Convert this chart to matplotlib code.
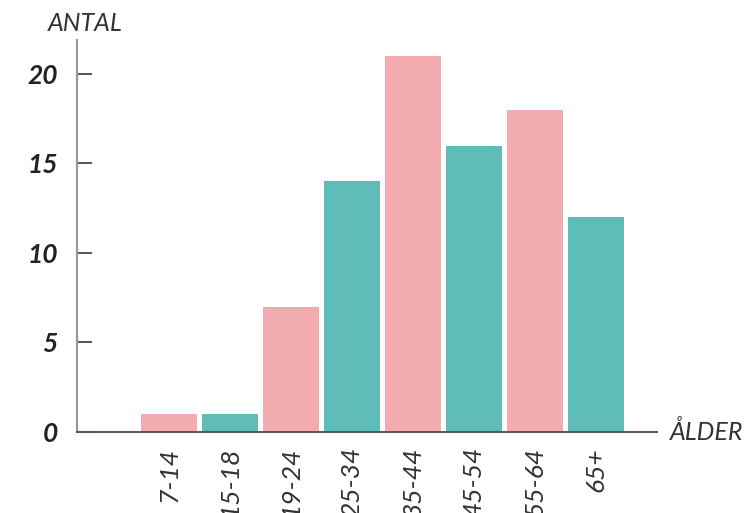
import numpy as np
import matplotlib
matplotlib.use('Agg')
import matplotlib.pyplot as plt

plt.rcParams['font.family'] = ['Lato', 'DejaVu Sans']

age_groups = ['7-14', '15-18', '19-24', '25-34', '35-44', '45-54', '55-64', '65+']
counts = [1, 1, 7, 14, 21, 16, 18, 12]
yticks = [0, 5, 10, 15, 20]

pink = '#F2ACAF'
teal = '#5FBCB8'
colors = [pink if i % 2 == 0 else teal for i in range(len(counts))]

fig = plt.figure(figsize=(7.45, 5.13), dpi=100)
ax = fig.add_axes([0.1034, 0.158, 0.7785, 0.764])

x = np.arange(len(age_groups))
ax.bar(x, counts, width=0.92, color=colors, zorder=2)

ax.set_xlim(-1.5, 8.0)
ax.set_ylim(0, 21.9)

ax.spines['top'].set_visible(False)
ax.spines['right'].set_visible(False)
ax.spines['left'].set_color('#999999')
ax.spines['left'].set_linewidth(1.6)
ax.spines['bottom'].set_color('#555555')
ax.spines['bottom'].set_linewidth(1.4)
ax.spines['bottom'].set_zorder(3)

ax.set_yticks(yticks)
ax.set_yticklabels([str(v) for v in yticks], fontsize=19, fontweight='bold',
                   fontstyle='italic', color='#222222')
ax.tick_params(axis='y', direction='in', length=11, width=1.4, color='#555555', pad=14)

ax.set_xticks(x)
ax.set_xticklabels(age_groups, rotation=90, fontsize=19,
                   fontstyle='italic', color='#333333')
ax.tick_params(axis='x', length=0, pad=11)

fig.text(0.064, 0.955, 'ANTAL', fontsize=18, fontstyle='italic',
         color='#333333', ha='left', va='center')
ax.text(1.022, 0, 'ÅLDER', transform=ax.get_yaxis_transform(which='grid'),
        fontsize=18, fontstyle='italic', color='#333333',
        ha='left', va='center')

fig.savefig('out.png', dpi=100)
